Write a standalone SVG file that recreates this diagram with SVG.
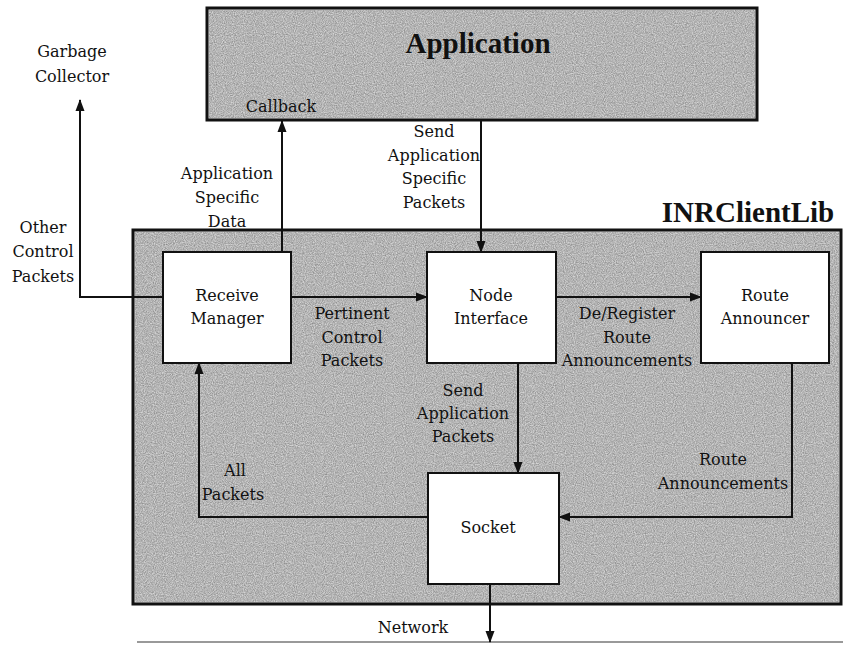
<svg xmlns="http://www.w3.org/2000/svg" width="843" height="645" viewBox="0 0 843 645">
<defs>
<style>
.big{fill:#d4d4d4;stroke:#111;stroke-width:3}
.tex{filter:url(#noise)}
.node{fill:#fff;stroke:#111;stroke-width:2}
.lbl{font-family:"DejaVu Serif","Liberation Serif",serif;font-size:16px;fill:#111;text-anchor:middle}
.title{font-family:"Liberation Serif","Times New Roman",serif;font-size:29px;font-weight:bold;fill:#111;text-anchor:middle}
.conn{fill:none;stroke:#111;stroke-width:2}
</style>
<filter id="noise" x="0" y="0" width="100%" height="100%">
<feTurbulence type="fractalNoise" baseFrequency="0.9" numOctaves="2" seed="3" result="n"/>
<feColorMatrix in="n" type="matrix" values="0 0 0 0 0  0 0 0 0 0  0 0 0 0 0  0 0 0 0.5 -0.1" result="dark"/>
<feComposite in="dark" in2="SourceGraphic" operator="in"/>
</filter>
<marker id="ah" markerUnits="userSpaceOnUse" markerWidth="12" markerHeight="12" viewBox="0 0 12 12" refX="11" refY="6" orient="auto">
<path d="M0,1.5 L12,6 L0,10.5 z" fill="#111"/>
</marker>
</defs>
<rect width="843" height="645" fill="#fff"/>

<g id="application">
<rect class="big" x="207" y="8" width="550" height="112"/>
<rect class="tex" x="209" y="10" width="546" height="108" fill="#000"/>
<text class="title" x="478" y="53">Application</text>
<text class="lbl" x="281" y="112">Callback</text>
</g>

<g id="inrclientlib">
<rect class="big" x="133" y="230" width="708" height="374"/>
<rect class="tex" x="135" y="232" width="704" height="370" fill="#000"/>
<text class="title" x="748" y="222">INRClientLib</text>
</g>

<g id="garbage-collector">
<text class="lbl" x="72" y="57">Garbage</text>
<text class="lbl" x="72" y="82">Collector</text>
</g>

<g id="network">
<line x1="137" y1="642" x2="843" y2="642" stroke="#999" stroke-width="2"/>
<text class="lbl" x="413" y="633">Network</text>
</g>

<g id="receive-manager">
<rect class="node" x="163" y="252" width="128" height="111"/>
<text class="lbl" x="227" y="301">Receive</text>
<text class="lbl" x="227" y="324">Manager</text>
</g>

<g id="node-interface">
<rect class="node" x="427" y="252" width="129" height="111"/>
<text class="lbl" x="491" y="301">Node</text>
<text class="lbl" x="491" y="324">Interface</text>
</g>

<g id="route-announcer">
<rect class="node" x="701" y="252" width="128" height="111"/>
<text class="lbl" x="765" y="301">Route</text>
<text class="lbl" x="765" y="324">Announcer</text>
</g>

<g id="socket">
<rect class="node" x="428" y="473" width="131" height="111"/>
<text class="lbl" x="488" y="533">Socket</text>
</g>

<g id="connectors">
<polyline class="conn" points="163,297 80,297 80,100" marker-end="url(#ah)"/>
<line class="conn" x1="282" y1="252" x2="282" y2="121" marker-end="url(#ah)"/>
<line class="conn" x1="481" y1="120" x2="481" y2="252" marker-end="url(#ah)"/>
<line class="conn" x1="291" y1="297" x2="427" y2="297" marker-end="url(#ah)"/>
<line class="conn" x1="556" y1="297" x2="701" y2="297" marker-end="url(#ah)"/>
<line class="conn" x1="518" y1="363" x2="518" y2="473" marker-end="url(#ah)"/>
<polyline class="conn" points="792,363 792,517 559,517" marker-end="url(#ah)"/>
<polyline class="conn" points="428,517 199,517 199,363" marker-end="url(#ah)"/>
<line class="conn" x1="490" y1="584" x2="490" y2="642" marker-end="url(#ah)"/>

<text class="lbl" x="43" y="233">Other</text>
<text class="lbl" x="43" y="257">Control</text>
<text class="lbl" x="43" y="282">Packets</text>

<text class="lbl" x="227" y="179">Application</text>
<text class="lbl" x="227" y="203">Specific</text>
<text class="lbl" x="227" y="227">Data</text>

<text class="lbl" x="434" y="137">Send</text>
<text class="lbl" x="434" y="161">Application</text>
<text class="lbl" x="434" y="184">Specific</text>
<text class="lbl" x="434" y="208">Packets</text>

<text class="lbl" x="352" y="319">Pertinent</text>
<text class="lbl" x="352" y="343">Control</text>
<text class="lbl" x="352" y="366">Packets</text>

<text class="lbl" x="627" y="319">De/Register</text>
<text class="lbl" x="627" y="343">Route</text>
<text class="lbl" x="627" y="366">Announcements</text>

<text class="lbl" x="463" y="396">Send</text>
<text class="lbl" x="463" y="419">Application</text>
<text class="lbl" x="463" y="442">Packets</text>

<text class="lbl" x="235" y="476">All</text>
<text class="lbl" x="233" y="500">Packets</text>

<text class="lbl" x="723" y="465">Route</text>
<text class="lbl" x="723" y="489">Announcements</text>
</g>
</svg>
